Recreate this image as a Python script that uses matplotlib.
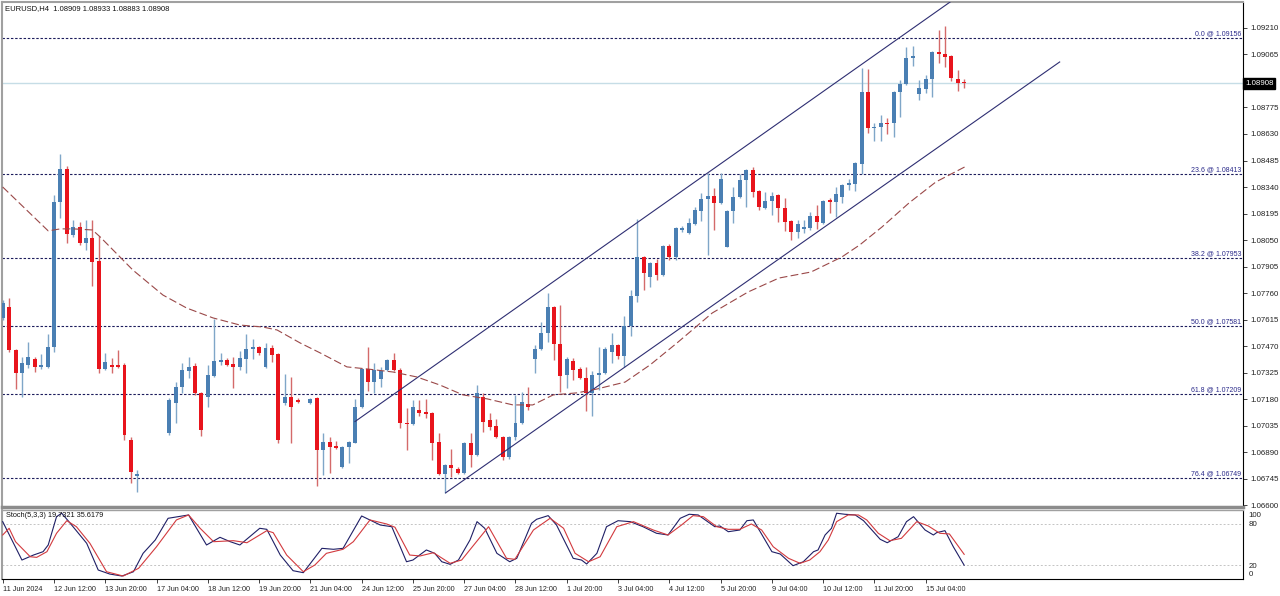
import matplotlib
matplotlib.use('Agg')
import matplotlib.pyplot as plt
import numpy as np
from matplotlib.transforms import blended_transform_factory

plt.rcParams['font.family'] = ['Liberation Sans', 'DejaVu Sans']

# ---------------- data (EURUSD H4) ----------------
N_BARS = 151
opens = [1.07623, 1.07684, 1.07449, 1.07323, 1.07367, 1.07400, 1.07356, 1.07356, 1.07465, 1.08258,
         1.08439, 1.08078, 1.08122, 1.08034, 1.08061, 1.07936, 1.07345, 1.07367, 1.07367, 1.07367,
         1.06956, 1.06759, None, None, None, None, 1.06995, 1.07159, 1.07246, 1.07334,
         1.07361, 1.07214, 1.07192, 1.07306, 1.07383, 1.07394, 1.07372, 1.07356, 1.07400, 1.07454,
         1.07465, 1.07356, 1.07460, 1.07427, 1.07159, 1.07192, 1.07175, None, 1.07159, 1.07186,
         1.06902, 1.06945, 1.06923, 1.06809, 1.06918, 1.06940, 1.07137, 1.07345, 1.07273, 1.07290,
         1.07339, 1.07394, 1.07339, 1.07050, 1.07044, 1.07120, 1.07109, 1.07104, 1.06945, 1.06770,
         1.06820, 1.06798, 1.06776, 1.06940, 1.06874, 1.07192, 1.07066, 1.07033, 1.06973, 1.06864,
         1.06973, 1.07050, 1.07153, 1.07400, 1.07454, 1.07542, 1.07684, 1.07481, 1.07312, 1.07389,
         1.07345, 1.07295, 1.07214, 1.07312, 1.07323, 1.07438, 1.07476, 1.07416, 1.07580, 1.07744,
         1.07957, 1.07848, 1.07925, 1.07859, 1.08018, 1.07957, 1.08105, 1.08089, 1.08138, 1.08209,
         1.08274, 1.08291, 1.08253, 1.08012, 1.08209, 1.08286, 1.08378, 1.08433, 1.08318, 1.08225,
         1.08264, 1.08296, 1.08225, 1.08154, 1.08094, 1.08111, 1.08116, 1.08182, 1.08143, 1.08269,
         1.08258, 1.08286, 1.08351, 1.08356, 1.08466, 1.08860, 1.08663, 1.08668, 1.08690, 1.08690,
         1.08860, 1.08904, 1.09046, 1.08849, 1.08876, 1.08931, 1.09079, 1.09068, 1.09057, 1.08931,
         1.08909]
highs = [1.07722, 1.07733, 1.07454, 1.07411, 1.07492, 1.07411, 1.07427, 1.07536, 1.08297, 1.08521,
         1.08455, 1.08160, 1.08149, 1.08160, 1.08160, 1.08072, 1.07433, 1.07405, 1.07449, 1.07378,
         1.06973, 1.06792, None, None, None, None, 1.07186, 1.07273, 1.07378, 1.07411,
         1.07378, 1.07219, 1.07367, 1.07618, 1.07433, 1.07405, 1.07411, 1.07444, 1.07536, 1.07509,
         1.07470, 1.07487, 1.07476, 1.07433, 1.07317, 1.07301, 1.07186, None, 1.07186, 1.07192,
         1.06995, 1.06973, 1.06951, 1.06923, 1.06951, 1.07181, 1.07350, 1.07465, 1.07378, 1.07356,
         1.07400, 1.07433, 1.07350, 1.07131, 1.07175, 1.07175, 1.07181, 1.07109, 1.06995, 1.06825,
         1.06907, 1.06809, 1.06945, 1.06995, 1.07257, 1.07214, 1.07104, 1.07071, 1.06978, 1.06978,
         1.07203, 1.07219, 1.07246, 1.07476, 1.07602, 1.07760, 1.07689, 1.07695, 1.07411, 1.07405,
         1.07356, 1.07356, 1.07334, 1.07465, 1.07465, 1.07542, 1.07481, 1.07635, 1.07777, 1.08165,
         1.07963, 1.07930, 1.07946, 1.08023, 1.08028, 1.08122, 1.08127, 1.08170, 1.08231, 1.08307,
         1.08417, 1.08335, 1.08417, 1.08214, 1.08340, 1.08411, 1.08438, 1.08450, 1.08324, 1.08313,
         1.08313, 1.08302, 1.08280, 1.08160, 1.08160, 1.08160, 1.08203, 1.08242, 1.08269, 1.08280,
         1.08340, 1.08356, 1.08384, 1.08477, 1.08991, 1.08985, 1.08690, 1.08734, 1.08718, 1.08866,
         1.08925, 1.09106, 1.09112, 1.08925, 1.08953, 1.09084, 1.09199, 1.09221, 1.09062, 1.08980,
         1.08933]
lows = [1.07613, 1.07438, 1.07235, 1.07192, 1.07350, 1.07328, 1.07345, 1.07350, 1.07438, 1.08170,
        1.08034, 1.08067, 1.08023, 1.07996, 1.07798, 1.07323, 1.07339, 1.07323, 1.07350, 1.06956,
        1.06721, 1.06672, None, None, None, None, 1.06984, 1.07050, 1.07214, 1.07295,
        1.07203, 1.06978, 1.07137, 1.07301, 1.07367, 1.07361, 1.07240, 1.07339, 1.07323, 1.07400,
        1.07422, 1.07350, 1.07383, 1.06940, 1.07148, 1.06940, 1.07159, None, 1.07153, 1.06704,
        1.06765, 1.06776, 1.06907, 1.06803, 1.06831, 1.06940, 1.07131, 1.07225, 1.07214, 1.07246,
        1.07334, 1.07334, 1.07022, 1.06902, 1.07039, 1.07088, 1.07077, 1.06847, 1.06765, 1.06667,
        1.06754, 1.06770, 1.06770, 1.06809, 1.06869, 1.07000, 1.07011, 1.06967, 1.06847, 1.06853,
        1.06956, 1.07044, 1.07120, 1.07323, 1.07449, 1.07492, 1.07394, 1.07219, 1.07240, 1.07284,
        1.07290, 1.07115, 1.07088, 1.07230, 1.07317, 1.07378, 1.07400, 1.07356, 1.07525, 1.07711,
        1.07777, 1.07793, 1.07831, 1.07853, 1.07941, 1.07941, 1.08094, 1.08083, 1.08132, 1.08154,
        1.07968, 1.08105, 1.08247, 1.08012, 1.08143, 1.08280, 1.08231, 1.08286, 1.08214, 1.08220,
        1.08187, 1.08149, 1.08100, 1.08050, 1.08061, 1.08089, 1.08105, 1.08111, 1.08138, 1.08198,
        1.08176, 1.08253, 1.08324, 1.08318, 1.08411, 1.08636, 1.08592, 1.08592, 1.08630, 1.08614,
        1.08723, 1.08898, 1.09002, 1.08816, 1.08854, 1.08832, 1.09018, 1.08996, 1.08920, 1.08865,
        1.08883]
closes = [1.07706, 1.07449, 1.07323, 1.07378, 1.07411, 1.07356, 1.07367, 1.07465, 1.08258, 1.08439,
          1.08083, 1.08122, 1.08034, 1.08061, 1.07930, 1.07345, 1.07383, 1.07356, 1.07356, 1.06984,
          1.06781, 1.06770, None, None, None, None, 1.07175, 1.07246, 1.07339, 1.07356,
          1.07214, 1.07011, 1.07312, 1.07389, 1.07394, 1.07367, 1.07356, 1.07405, 1.07454, 1.07465,
          1.07433, 1.07460, 1.07422, 1.06956, 1.07192, 1.07137, 1.07164, None, 1.07181, 1.06902,
          1.06945, 1.06918, 1.06912, 1.06918, 1.06945, 1.07137, 1.07345, 1.07273, 1.07339, 1.07334,
          1.07394, 1.07339, 1.07050, 1.07044, 1.07137, 1.07104, 1.07098, 1.06940, 1.06770, 1.06820,
          1.06803, 1.06776, 1.06940, 1.06874, 1.07214, 1.07055, 1.07028, 1.06973, 1.06864, 1.06973,
          1.07050, 1.07164, 1.07137, 1.07454, 1.07542, 1.07684, 1.07481, 1.07306, 1.07400, 1.07339,
          1.07295, 1.07214, 1.07312, 1.07323, 1.07454, 1.07476, 1.07416, 1.07580, 1.07744, 1.07957,
          1.07870, 1.07925, 1.07859, 1.08018, 1.07957, 1.08116, 1.08116, 1.08143, 1.08214, 1.08274,
          1.08291, 1.08253, 1.08384, 1.08209, 1.08286, 1.08378, 1.08433, 1.08313, 1.08231, 1.08264,
          1.08291, 1.08225, 1.08149, 1.08094, 1.08138, 1.08122, 1.08182, 1.08149, 1.08264, 1.08258,
          1.08302, 1.08351, 1.08362, 1.08471, 1.08860, 1.08663, 1.08668, 1.08690, 1.08685, 1.08860,
          1.08904, 1.09046, 1.09057, 1.08882, 1.08931, 1.09079, 1.09068, 1.09051, 1.08936, 1.08909,
          1.08908]

# moving average (read at sample bars)
ma_idx = [0, 7.1, 9, 11, 14, 15.2, 20.3, 25, 28.7, 32.8, 37, 40.6, 42.8, 46.4, 49.5, 53.7, 56.8,
          60.9, 64.6, 68.2, 71.8, 75.6, 79.6, 82.7, 85.9, 89.6, 92.7, 97.1, 101, 105.2, 110.7,
          116.3, 121.1, 126.1, 130.9, 133.7, 137.2, 141.4, 145.6, 150.1]
ma_val = [1.08340, 1.08100, 1.08111, 1.08111, 1.08105, 1.08067, 1.07886, 1.07749, 1.07678, 1.07624,
          1.07585, 1.07574, 1.07558, 1.07487, 1.07433, 1.07356, 1.07345, 1.07328, 1.07301, 1.07257,
          1.07203, 1.07181, 1.07148, 1.07148, 1.07203, 1.07214, 1.07235, 1.07273, 1.07367, 1.07487,
          1.07651, 1.07766, 1.07842, 1.07875, 1.07957, 1.08023, 1.08122, 1.08253, 1.08368, 1.08450]

# price channel anchors (bar index, price)
chan_lower_x = [69.1, 164.9]
chan_lower_y = [1.06667, 1.09024]
chan_upper_x = [54.96, 151.0]
chan_upper_y = [1.07057, 1.09431]

fib_names = ["0.0", "23.6", "38.2", "50.0", "61.8", "76.4"]
fib_prices = [1.09156, 1.08413, 1.07953, 1.07581, 1.07209, 1.06749]

price_ticks = [1.06600, 1.06745, 1.06890, 1.07035, 1.07180, 1.07325, 1.07470, 1.07615, 1.07760,
               1.07905, 1.08050, 1.08195, 1.08340, 1.08485, 1.08630, 1.08775, 1.08920, 1.09065, 1.09210]
price_tick_labels = ["1.06600", "1.06745", "1.06890", "1.07035", "1.07180", "1.07325", "1.07470",
                     "1.07615", "1.07760", "1.07905", "1.08050", "1.08195", "1.08340", "1.08485",
                     "1.08630", "1.08775", "", "1.09065", "1.09210"]
last_price = 1.08908

date_idx = [0, 8, 16, 24, 32, 40, 48, 56, 64, 72, 80, 88, 96, 104, 112, 120, 128, 136, 144]
date_labels = ["11 Jun 2024", "12 Jun 12:00", "13 Jun 20:00", "17 Jun 04:00", "18 Jun 12:00",
               "19 Jun 20:00", "21 Jun 04:00", "24 Jun 12:00", "25 Jun 20:00", "27 Jun 04:00",
               "28 Jun 12:00", "1 Jul 20:00", "3 Jul 04:00", "4 Jul 12:00", "5 Jul 20:00",
               "9 Jul 04:00", "10 Jul 12:00", "11 Jul 20:00", "15 Jul 04:00"]

# stochastic (5,3,3) read at sample bars
k_idx = [0, 3, 4.8, 6.3, 7.1, 8.4, 9.2, 10.2, 13.1, 14.9, 16.7, 18.6, 20.4, 21.9, 23.8, 25.8, 29,
         31.8, 33.9, 35.5, 37, 40.1, 41.2, 43.3, 45.3, 46.9, 49.8, 51.6, 53.1, 56, 58.9, 60.7, 63,
         64, 66.1, 67.4, 68.5, 69.8, 71.1, 72.9, 74, 75.2, 77.1, 79.1, 80.2, 82.5, 83.3, 85.1, 86.4,
         89, 90.3, 91.1, 92.7, 94.2, 96, 97.9, 99.9, 102, 103.8, 105.7, 107.1, 108.5, 111.1, 111.9,
         113.2, 115, 116.1, 117.1, 120, 121.3, 123.3, 124.9, 126.5, 127.2, 128.3, 129.3, 130.1,
         131.4, 133, 134.3, 136.9, 138, 139.7, 141, 142.1, 143.9, 145.2, 145.7, 147, 148.3, 150]
k_val = [83.4, 27.3, 34.6, 39.5, 49.3, 90.7, 95.7, 84.8, 51.8, 12.7, 6.8, 3.9, 10.2, 37.1, 56.6,
         88.3, 93.2, 49.3, 60.5, 54.1, 49.3, 73.7, 72.2, 34.6, 11.7, 8.8, 44.4, 43.0, 44.4, 91.7,
         78.5, 76.0, 24.8, 27.3, 42.0, 37.1, 24.8, 21.0, 27.3, 56.6, 83.4, 73.7, 37.1, 24.8, 29.8,
         81.0, 86.9, 92.2, 78.5, 29.8, 27.3, 21.5, 37.1, 76.0, 84.8, 83.4, 76.0, 66.4, 63.9, 88.3,
         94.2, 93.2, 76.0, 77.1, 68.7, 71.2, 84.8, 85.9, 39.5, 36.1, 19.0, 24.8, 39.5, 42.0, 63.9,
         73.7, 95.7, 94.2, 93.2, 84.8, 57.6, 52.6, 61.4, 83.4, 90.7, 71.2, 63.9, 67.3, 70.2, 46.8,
         19.7321]
d_idx = [0, 1, 2, 4.3, 5.3, 6.9, 8.4, 10, 11.5, 13.6, 16.2, 18.8, 21.2, 24, 27.1, 29, 30.8, 32.9,
         36, 38.1, 41.2, 42.2, 44.3, 46.9, 48.7, 50.5, 53.1, 54.7, 57.3, 59.9, 61.2, 63.5, 65.1,
         67.2, 69.8, 71.6, 75.8, 78.6, 79.9, 82.8, 85.4, 87.5, 89.3, 91.4, 93.2, 95.8, 98.4, 101.5,
         103.8, 105.9, 107.7, 109.3, 111.4, 113.2, 115, 116.8, 118.4, 120.2, 122.6, 124.4, 125.9,
         127.5, 128.8, 130.1, 131.9, 133.5, 134.8, 136.6, 138.4, 140.2, 142.6, 144.4, 146.2, 147.7, 150]
d_val = [63.9, 73.7, 54.1, 32.1, 31.2, 39.5, 66.4, 84.8, 76.0, 51.8, 10.2, 3.9, 15.2, 46.8, 85.9,
         93.2, 73.7, 54.1, 55.6, 52.6, 70.2, 67.3, 34.6, 10.2, 20.0, 37.1, 43.0, 54.1, 85.9, 80.0,
         75.2, 34.6, 33.2, 38.0, 22.5, 27.3, 76.0, 29.8, 28.3, 71.2, 88.3, 73.7, 37.1, 24.8, 32.1,
         76.0, 83.4, 71.2, 63.9, 78.5, 92.2, 90.7, 76.0, 72.2, 72.2, 80.0, 71.2, 46.8, 29.8, 22.5,
         27.3, 39.5, 56.6, 83.4, 93.2, 93.2, 85.9, 66.4, 55.6, 59.0, 83.4, 77.1, 66.4, 65.4, 35.6179]

# ---------------- figure ----------------
W, H = 1280, 596
fig = plt.figure(figsize=(W / 100, H / 100), dpi=100)
fig.patch.set_facecolor('white')
ax = fig.add_axes([2 / W, 1 - 507.3 / H, 1241 / W, 505.3 / H])
ax2 = fig.add_axes([2 / W, 1 - 578.7 / H, 1241 / W, 68.4 / H], sharex=ax)

BLUE, RED = '#4a7fb3', '#e8141c'
BLUE_W, RED_W = '#7fa6c8', '#d46a6a'

o = np.array([np.nan if v is None else v for v in opens])
h = np.array([np.nan if v is None else v for v in highs])
l = np.array([np.nan if v is None else v for v in lows])
c = np.array([np.nan if v is None else v for v in closes])
idx = np.arange(len(o))
ok = ~np.isnan(o)
up = (c >= o) & ok
dn = (c < o) & ok

for m, bc, wc in ((up, BLUE, BLUE_W), (dn, RED, RED_W)):
    ax.vlines(idx[m], l[m], h[m], color=wc, lw=1.0, zorder=3)
    bottom = np.minimum(o[m], c[m])
    height = np.maximum(np.abs(c[m] - o[m]), 0.000045)
    ax.bar(idx[m], height, bottom=bottom, width=0.62, color=bc, linewidth=0, zorder=4)

# fib levels
tr = blended_transform_factory(ax.transAxes, ax.transData)
for name, p in zip(fib_names, fib_prices):
    ax.axhline(p, color='#1c1c5c', lw=0.8, dashes=(2.2, 1.6), zorder=2)
    ax.text(0.9985, p + 0.00002, f"{name} @ {p:.5f}", transform=tr, ha='right', va='bottom',
            fontsize=5.0, color='#2a2a8a', zorder=6)

# current price line
ax.axhline(last_price, color='#c6dde6', lw=1.0, zorder=1)

# channel
ax.plot(chan_lower_x, chan_lower_y, color='#2e2e72', lw=0.8, zorder=5)
ax.plot(chan_upper_x, chan_upper_y, color='#2e2e72', lw=0.8, zorder=5)

# moving average
ax.plot(ma_idx, ma_val, color='#9a4848', lw=0.8, dashes=(7, 3), zorder=5)

ax.set_xlim(-0.11, 193.5)
ax.set_ylim(1.06588, 1.09352)
ax.yaxis.tick_right()
ax.set_yticks(price_ticks)
ax.set_yticklabels(price_tick_labels)
ax.tick_params(axis='y', direction='out', length=3, width=0.6, labelsize=5.7, pad=2,
               colors='#222222')
ax.tick_params(axis='x', bottom=False, labelbottom=False)
for s in ('left', 'top'):
    ax.spines[s].set_color('#a0a0a0')
    ax.spines[s].set_linewidth(1.5)
ax.spines['right'].set_color('black')
ax.spines['right'].set_linewidth(0.8)
ax.spines['bottom'].set_color('#8c8c8c')
ax.spines['bottom'].set_linewidth(2.5)

ax.text(0.0024, 0.988, "EURUSD,H4  1.08909 1.08933 1.08883 1.08908", transform=ax.transAxes,
        ha='left', va='center', fontsize=5.5, color='#111111')

ax.text(1.0016, last_price, f"{last_price:.5f}", transform=tr, ha='left', va='center',
        fontsize=5.7, color='white', zorder=10, clip_on=False,
        bbox=dict(boxstyle='square,pad=0.25', fc='black', ec='black'))

# ---------------- stochastic ----------------
ax2.plot(k_idx, k_val, color='#1f1f66', lw=0.8, zorder=3)
ax2.plot(d_idx, d_val, color='#d23a3e', lw=0.8, zorder=3)
for lv in (80, 20):
    ax2.axhline(lv, color='#c4c4c4', lw=0.7, dashes=(2, 2), zorder=1)
ax2.set_ylim(0, 100)
ax2.yaxis.tick_right()
ax2.set_yticks([94.3, 80, 20, 6.9])
ax2.set_yticklabels(['100', '80', '20', '0'])
ax2.tick_params(axis='y', direction='out', length=0, labelsize=5.7, pad=4, colors='#222222')
ax2.set_xticks(date_idx)
ax2.set_xticklabels(date_labels, ha='left')
ax2.tick_params(axis='x', direction='out', length=3, width=0.6, labelsize=5.2, pad=2,
                colors='#222222')
ax2.spines['left'].set_color('#a0a0a0')
ax2.spines['left'].set_linewidth(1.5)
ax2.spines['top'].set_color('#a0a0a0')
ax2.spines['top'].set_linewidth(1.0)
ax2.spines['right'].set_color('black')
ax2.spines['right'].set_linewidth(0.8)
ax2.spines['bottom'].set_color('black')
ax2.spines['bottom'].set_linewidth(0.8)
ax2.text(0.0035, 0.917, "Stoch(5,3,3) 19.7321 35.6179", transform=ax2.transAxes, ha='left',
         va='center', fontsize=5.3, color='#111111', zorder=5)

fig.savefig('out.png', dpi=100, facecolor='white')
